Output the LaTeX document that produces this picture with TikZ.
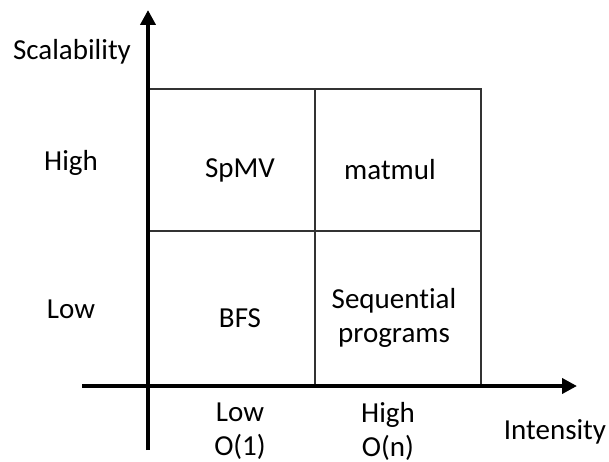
\documentclass[tikz,border=0pt]{standalone}
\usepackage{fontspec}
\setmainfont{Carlito}[Ligatures=NoCommon]
\usetikzlibrary{arrows.meta}

\begin{document}
\begin{tikzpicture}[x=1pt,y=-1pt,
    axis/.style={line width=4.5pt,-{Triangle[length=15pt,width=15pt]}},
    cell/.style={draw=black!80,line width=1.3pt},
    lbl/.style={font=\fontsize{29}{34}\selectfont,align=center,inner sep=0pt}]
	\useasboundingbox (0,0) rectangle (609,462);

	% quadrants
	\draw[cell] (148,89) rectangle (481,386);
	\draw[cell] (315,89) -- (315,386);
	\draw[cell] (148,231) -- (481,231);

	% axes
	\coordinate (ybot) at (148,450); \coordinate (ytop) at (148,10);
	\coordinate (xlft) at (82,386); \coordinate (xrgt) at (577,386);
	\draw[axis] (ybot) -- (ytop);
	\draw[axis] (xlft) -- (xrgt);

	\node[lbl] (scal) at (72,52) {Scalability};
	\node[lbl] (yhigh) at (71,163) {High};
	\node[lbl] (ylow) at (71,309) {Low};
	\node[lbl] (spmv) at (240,170) {SpMV};
	\node[lbl] (matmul) at (390,170) {matmul};
	\node[lbl] (bfs) at (240,318) {BFS};
	\node[lbl] (seq) at (394,318) {Sequential\\programs};
	\node[lbl] (xlow) at (240,431) {Low\\O(1)};
	\node[lbl] (xhigh) at (388,431) {High\\O(n)};
	\node[lbl] (inten) at (555,432) {Intensity};
\end{tikzpicture}
\end{document}
